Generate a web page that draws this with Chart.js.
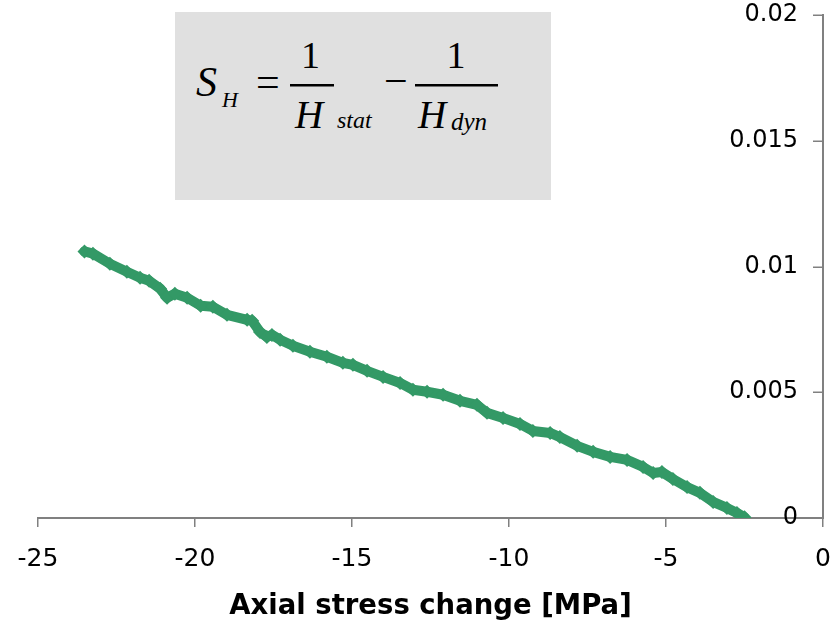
<!DOCTYPE html>
<html><head><meta charset="utf-8">
<script src="https://cdn.jsdelivr.net/npm/chart.js@4/dist/chart.umd.min.js"></script>
<style>
html,body{margin:0;padding:0;background:#fff;}
#wrap{position:relative;width:840px;height:625px;}
#formula{position:absolute;left:175px;top:12px;width:376px;height:188px;background:#e0e0e0;}
</style></head><body>
<div id="wrap"><canvas id="c" width="840" height="625"></canvas>
<div id="formula"><svg width="376" height="188">
<g font-family="'Liberation Serif','Times New Roman',serif" fill="#000">
<text x="21" y="84" font-size="42" font-style="italic">S</text>
<text x="47" y="95" font-size="22" font-style="italic">H</text>
<text x="81" y="84.4" font-size="42">=</text>
<rect x="115" y="72" width="44" height="2.5"/>
<text x="135.5" y="56" font-size="38" text-anchor="middle">1</text>
<text x="120" y="116" font-size="39" font-style="italic">H</text>
<text x="162" y="116" font-size="24" font-style="italic">stat</text>
<text x="209" y="83" font-size="42">−</text>
<rect x="240" y="72" width="83" height="2.5"/>
<text x="281" y="56" font-size="38" text-anchor="middle">1</text>
<text x="243" y="116" font-size="39" font-style="italic">H</text>
<text x="276" y="118" font-size="25" font-style="italic">dyn</text>
</g></svg></div></div>
<script>
const stressMPa = [-23.52,-23.25,-22.71,-22.17,-21.75,-21.46,-21.11,-20.89,-20.64,-20.25,-19.82,-19.43,-18.98,-18.34,-18.18,-17.93,-17.71,-17.55,-17.29,-16.88,-16.34,-15.80,-15.29,-14.97,-14.52,-14.01,-13.47,-13.06,-12.61,-12.10,-11.56,-11.02,-10.70,-10.19,-9.65,-9.24,-8.69,-8.38,-7.83,-7.32,-6.78,-6.24,-5.73,-5.41,-5.13,-4.78,-4.33,-3.92,-3.50,-3.06,-2.74,-2.50];
const shValues = [0.01060,0.01051,0.01011,0.00979,0.00955,0.00943,0.00912,0.00876,0.00892,0.00876,0.00844,0.00840,0.00808,0.00788,0.00784,0.00740,0.00720,0.00728,0.00709,0.00685,0.00661,0.00641,0.00617,0.00609,0.00585,0.00561,0.00537,0.00510,0.00502,0.00490,0.00466,0.00450,0.00418,0.00398,0.00374,0.00346,0.00338,0.00322,0.00287,0.00263,0.00243,0.00231,0.00203,0.00179,0.00183,0.00155,0.00123,0.00100,0.00064,0.00040,0.00020,0.00003];
const xTicks = [-25,-20,-15,-10,-5,0];
const xTickLabels = ['-25','-20','-15','-10','-5','0'];
const yTicks = [0,0.005,0.01,0.015,0.02];
const yTickLabels = ['0','0.005','0.01','0.015','0.02'];
const xTitle = 'Axial stress change [MPa]';

const green = '#339966';
const axisGray = '#808080';
const xLabelFont = {family:"'DejaVu Sans', sans-serif", size:25};
const yLabelFont = {family:"'DejaVu Sans', sans-serif", size:24};

function labelFor(ticks, labels, v){
  const i = ticks.findIndex(t => Math.abs(t - v) < 1e-9);
  return i >= 0 ? labels[i] : '';
}

// inward tick marks on the right-hand value axis
const yTickMarks = {
  id: 'yTickMarks',
  afterDraw(chart) {
    const s = chart.scales.y, ctx = chart.ctx;
    ctx.save();
    ctx.strokeStyle = axisGray;
    ctx.lineWidth = 1.5;
    s.ticks.forEach(t => {
      const py = Math.round(s.getPixelForValue(t.value)) + 0.25;
      ctx.beginPath();
      ctx.moveTo(s.left - 10, py);
      ctx.lineTo(s.left, py);
      ctx.stroke();
    });
    ctx.restore();
  }
};

new Chart(document.getElementById('c'), {
  type: 'scatter',
  data: {
    datasets: [{
      data: stressMPa.map((x, i) => ({x: x, y: shValues[i]})),
      showLine: true,
      borderColor: green,
      borderWidth: 10,
      borderJoinStyle: 'round',
      borderCapStyle: 'round',
      pointStyle: 'rectRot',
      pointRadius: 7,
      pointBackgroundColor: green,
      pointBorderWidth: 0,
      tension: 0
    }]
  },
  plugins: [yTickMarks],
  options: {
    responsive: false,
    animation: false,
    events: [],
    layout: {padding: {left: 38, right: 17, top: 15, bottom: 0}},
    plugins: {legend: {display: false}, tooltip: {enabled: false}},
    scales: {
      x: {
        type: 'linear', position: 'bottom', min: -25, max: 0,
        afterBuildTicks: s => { s.ticks = xTicks.map(v => ({value: v})); },
        afterFit: s => { s.height = 107; s.paddingLeft = 0; s.paddingRight = 0; },
        grid: {drawOnChartArea: false, drawTicks: true, tickLength: 9, color: axisGray, lineWidth: 1.5},
        border: {display: true, color: axisGray, width: 2},
        ticks: {padding: 17, font: xLabelFont, color: '#000', maxRotation: 0, autoSkip: false,
          callback: v => labelFor(xTicks, xTickLabels, v)},
        title: {display: true, text: xTitle, color: '#000',
          font: {family: "'DejaVu Sans', sans-serif", size: 27.5, weight: 'bold'},
          padding: {top: 0, bottom: 2}}
      },
      y: {
        type: 'linear', position: 'right', min: 0, max: 0.02,
        afterBuildTicks: s => { s.ticks = yTicks.map(v => ({value: v})); },
        afterFit: s => { s.width = 0; },
        grid: {display: false},
        border: {display: true, color: axisGray, width: 2},
        ticks: {mirror: true, padding: -25, font: yLabelFont, color: '#000',
          callback: v => labelFor(yTicks, yTickLabels, v)}
      }
    }
  }
});
</script>
</body></html>
